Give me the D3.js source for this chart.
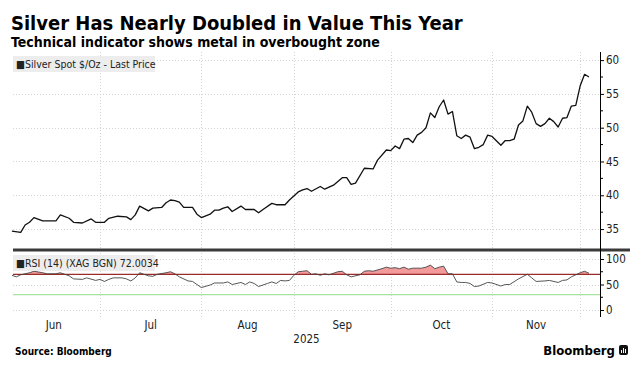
<!DOCTYPE html>
<html>
<head>
<meta charset="utf-8">
<script src="https://cdn.jsdelivr.net/npm/d3@7"></script>
<style>
  body { margin: 0; background: #fff; }
  svg text { font-family: "DejaVu Sans Condensed", "DejaVu Sans", sans-serif; font-stretch: condensed; }
</style>
</head>
<body>
<svg id="chart"></svg>
<script>
// silver spot (one entry per trading day shown)
var priceDates = ["06-03","06-05","06-06","06-09","06-10","06-12","06-17","06-18","06-20","06-23",
  "06-25","06-27","06-30","07-02","07-03","07-07","07-09","07-10","07-11","07-14",
  "07-16","07-17","07-21","07-22","07-23","07-24","07-25","07-28","07-30","07-31",
  "08-01","08-05","08-06","08-07","08-08","08-11","08-12","08-14","08-15","08-19",
  "08-20","08-21","08-25","08-26","08-28","08-29","09-02","09-03","09-04","09-05",
  "09-09","09-10","09-12","09-16","09-17","09-18","09-19","09-23","09-25","09-26",
  "09-30","10-01","10-02","10-03","10-06","10-07","10-08","10-09","10-10","10-13",
  "10-14","10-15","10-16","10-17","10-20","10-21","10-22","10-23","10-24","10-27",
  "10-28","10-29","10-30","10-31","11-03","11-05","11-06","11-07","11-10","11-11",
  "11-12","11-13","11-14","11-17","11-18","11-19","11-20","11-21","11-24","11-25",
  "11-26","11-27","11-28","12-01","12-02","12-03"];
var priceValues = [34.7,34.5,35.6,36.0,36.7,36.2,36.2,37.1,36.6,36.0,
  35.9,36.5,36.0,36.0,36.6,36.9,36.8,36.4,37.1,38.4,
  37.7,38.1,38.2,38.9,39.3,39.2,39.0,38.2,38.2,37.2,
  36.7,37.2,37.8,37.8,38.1,38.3,37.6,38.4,37.9,37.9,
  37.4,37.9,38.8,38.6,38.6,39.3,40.5,40.8,41.0,40.6,
  41.3,40.9,41.5,42.6,42.6,41.6,41.8,44.0,43.9,45.2,
  46.7,46.6,47.3,46.9,48.3,48.4,47.8,48.9,49.3,50.0,
  52.2,51.5,53.1,54.1,52.0,52.4,48.8,48.4,48.9,48.6,
  46.9,47.1,47.5,48.9,48.7,47.4,48.1,48.1,48.3,50.4,
  51.0,53.2,52.3,50.6,50.2,50.6,51.4,50.9,50.1,51.4,
  51.5,53.2,53.3,56.2,57.9,57.5];

// RSI (14)
var rsiDates = ["06-03","06-04","06-05","06-09","06-10","06-12","06-13","06-17","06-18","06-20",
  "06-23","06-25","06-26","06-30","07-01","07-02","07-03","07-04","07-08","07-09",
  "07-10","07-11","07-14","07-16","07-17","07-18","07-22","07-23","07-24","07-25",
  "07-29","07-30","08-01","08-05","08-06","08-08","08-11","08-12","08-14","08-15",
  "08-18","08-19","08-20","08-22","08-25","08-26","08-27","08-28","08-29","09-01",
  "09-02","09-03","09-04","09-05","09-08","09-09","09-10","09-11","09-15","09-16",
  "09-17","09-18","09-22","09-23","09-24","09-25","09-29","09-30","10-01","10-02",
  "10-03","10-06","10-07","10-08","10-10","10-13","10-14","10-15","10-16","10-17",
  "10-20","10-21","10-22","10-23","10-24","10-27","10-28","10-29","10-31","11-03",
  "11-05","11-06","11-07","11-11","11-13","11-14","11-17","11-19","11-20","11-24",
  "11-25","11-26","11-27","12-01","12-02","12-03"];
var rsiValues = [68,65,69,73,76,73,71,71,73,67,
  61,60,63,58,60,56,60,63,63,61,
  57,63,73,67,66,70,73,75,71,65,
  57,56,44,49,53,53,55,50,54,50,
  55,52,46,52,55,52,58,57,58,68,
  75,76,77,70,71,68,71,69,75,76,
  69,65,69,76,77,76,81,84,82,83,
  81,84,80,82,82,84,88,81,84,86,
  71,71,55,54,54,52,46,47,54,53,
  47,50,50,61,70,63,56,57,58,54,
  58,59,65,73,76,72];

var monthStarts = ["06-02","07-01","08-01","09-01","10-01","11-03","12-01"];
var monthLabels = ["Jun","Jul","Aug","Sep","Oct","Nov"];
var priceTicks = [35, 40, 45, 50, 55, 60];
var rsiTicks = [0, 50, 100];
var overbought = 70, oversold = 30;

var width = 640, height = 370;
var plot = { left: 13, right: 600, top: 52, mid: 248, rsiTop: 252, bottom: 317 };

var svg = d3.select("#chart").attr("width", width).attr("height", height);

// x axis runs on trading days, weekends skipped
var parse = d3.utcParse("%Y-%m-%d");
var day0 = parse("2025-06-02");
function tradeIndex(md) {
  var n = d3.utcDay.count(day0, parse("2025-" + md));
  return Math.floor(n / 7) * 5 + Math.min(n % 7, 5);
}

var x = d3.scaleLinear()
  .domain([tradeIndex("06-03") + 0.25, tradeIndex("12-05") + 0.5])
  .range([plot.left, plot.right]);
var y = d3.scaleLinear().domain([32.2, 61.2]).range([plot.mid, plot.top]);
var yr = d3.scaleLinear().domain([-13.7, 113.7]).range([plot.bottom, plot.rsiTop]);

var price = priceDates.map((d, i) => ({ i: tradeIndex(d), v: priceValues[i] }));
var rsi = rsiDates.map((d, i) => ({ i: tradeIndex(d), v: rsiValues[i] }));

// grid
var grid = svg.append("g").attr("stroke", "#d4d4d4").attr("stroke-dasharray", "1,2").attr("stroke-width", 1);
grid.selectAll(".v").data(monthStarts.slice(1)).enter().append("line")
  .attr("x1", d => Math.round(x(tradeIndex(d))) + 0.5).attr("x2", d => Math.round(x(tradeIndex(d))) + 0.5)
  .attr("y1", plot.top).attr("y2", plot.bottom);
grid.selectAll(".hp").data(priceTicks).enter().append("line")
  .attr("x1", plot.left).attr("x2", plot.right)
  .attr("y1", d => Math.round(y(d)) + 0.5).attr("y2", d => Math.round(y(d)) + 0.5);
grid.selectAll(".hr").data(rsiTicks).enter().append("line")
  .attr("x1", plot.left).attr("x2", plot.right)
  .attr("y1", d => Math.round(yr(d)) + 0.5).attr("y2", d => Math.round(yr(d)) + 0.5);

// price line
svg.append("path").datum(price)
  .attr("fill", "none").attr("stroke", "#111").attr("stroke-width", 1.3)
  .attr("stroke-linejoin", "round")
  .attr("d", d3.line().x(d => x(d.i)).y(d => y(d.v)));

// rsi overbought fill, clipped above the 70 line
svg.append("clipPath").attr("id", "ob").append("rect")
  .attr("x", plot.left).attr("y", plot.rsiTop)
  .attr("width", plot.right - plot.left).attr("height", yr(overbought) - plot.rsiTop);
svg.append("path").datum(rsi)
  .attr("clip-path", "url(#ob)")
  .attr("fill", "#f39a9a")
  .attr("d", d3.area().x(d => x(d.i)).y0(yr(overbought)).y1(d => yr(d.v)));

svg.append("line").attr("x1", plot.left).attr("x2", plot.right)
  .attr("y1", yr(oversold)).attr("y2", yr(oversold))
  .attr("stroke", "#a6e3a0").attr("stroke-width", 1.2);
svg.append("line").attr("x1", plot.left).attr("x2", plot.right)
  .attr("y1", yr(overbought)).attr("y2", yr(overbought))
  .attr("stroke", "#9b2a2a").attr("stroke-width", 1.3);

svg.append("path").datum(rsi)
  .attr("fill", "none").attr("stroke", "#444").attr("stroke-width", 0.9)
  .attr("d", d3.line().x(d => x(d.i)).y(d => yr(d.v)));

// separator between panels
svg.append("line").attr("x1", plot.left).attr("x2", 630)
  .attr("y1", 250).attr("y2", 250).attr("stroke", "#3a3a3a").attr("stroke-width", 3);

// right axes
function rightAxis(scale, ticks, minor) {
  var g = svg.append("g").attr("transform", `translate(${plot.right},0)`);
  g.call(d3.axisRight(scale).tickValues(ticks).tickSize(4).tickPadding(2));
  g.selectAll(".minor").data(minor).enter().append("line").attr("class", "minor")
    .attr("x1", 0).attr("x2", 3).attr("y1", d => scale(d)).attr("y2", d => scale(d))
    .attr("stroke", "#000");
  g.select(".domain").remove();
  g.selectAll("text").attr("font-size", 11.5).attr("fill", "#222")
    .attr("font-family", "DejaVu Sans Condensed, DejaVu Sans, sans-serif");
  return g;
}
rightAxis(y, priceTicks, [37.5, 42.5, 47.5, 52.5, 57.5]);
rightAxis(yr, rsiTicks, [25, 75]);
svg.append("line").attr("x1", plot.right + 0.5).attr("x2", plot.right + 0.5)
  .attr("y1", plot.top).attr("y2", plot.bottom).attr("stroke", "#000");

// month labels
svg.append("g").selectAll("text").data(monthLabels).enter().append("text")
  .attr("x", (d, i) => x((tradeIndex(monthStarts[i]) + tradeIndex(monthStarts[i + 1])) / 2))
  .attr("y", 329).attr("text-anchor", "middle").attr("font-size", 11.5).attr("fill", "#222")
  .text(d => d);
svg.append("text").attr("x", (plot.left + plot.right) / 2).attr("y", 343)
  .attr("text-anchor", "middle").attr("font-size", 11.5).attr("fill", "#222").text("2025");

// legends
function legend(yTop, label) {
  var g = svg.append("g");
  g.append("rect").attr("x", plot.left).attr("y", yTop).attr("width", 142).attr("height", 16).attr("fill", "#ededed");
  g.append("text").attr("x", plot.left + 3).attr("y", yTop + 12).attr("font-size", 10.5).attr("fill", "#222")
    .text("\u25A0" + label);
}
legend(56, "Silver Spot $/Oz - Last Price");
legend(255, "RSI (14) (XAG BGN) 72.0034");

// titles
svg.append("text").attr("x", 11).attr("y", 30).attr("font-size", 20).attr("font-weight", "bold")
  .attr("fill", "#000").text("Silver Has Nearly Doubled in Value This Year");
svg.append("text").attr("x", 11).attr("y", 47).attr("font-size", 14).attr("font-weight", "bold")
  .attr("fill", "#000").text("Technical indicator shows metal in overbought zone");

svg.append("text").attr("x", 15).attr("y", 355).attr("font-size", 10).attr("font-weight", "bold")
  .attr("fill", "#000").text("Source:  Bloomberg");

svg.append("text").attr("x", 615).attr("y", 355).attr("text-anchor", "end").attr("font-size", 13)
  .attr("font-weight", "bold").attr("fill", "#000").text("Bloomberg");
var logo = svg.append("g").attr("transform", "translate(619,345)");
logo.append("rect").attr("width", 9).attr("height", 10).attr("rx", 2).attr("fill", "#111");
logo.selectAll(".b").data([3, 5, 4]).enter().append("rect")
  .attr("x", (d, i) => 2 + i * 2).attr("y", d => 8 - d).attr("width", 1).attr("height", d => d).attr("fill", "#fff");
</script>
</body>
</html>
